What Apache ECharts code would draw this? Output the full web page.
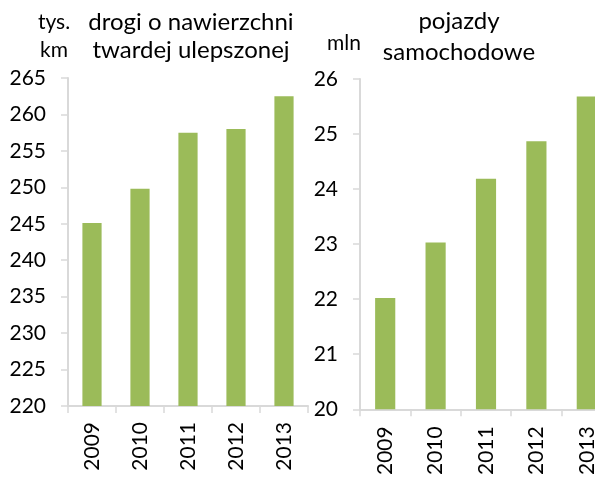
<!DOCTYPE html>
<html>
<head>
<meta charset="utf-8">
<script src="https://cdn.jsdelivr.net/npm/echarts@6/dist/echarts.min.js"></script>
<style>
  html, body { margin: 0; padding: 0; background: #fff; overflow: hidden; }
  /* the right panel runs past the picture's edge, as in the source */
  #chart { width: 620px; height: 478px; }
</style>
</head>
<body>
<div id="chart"></div>
<script>
const years = ['2009', '2010', '2011', '2012', '2013']
// drogi o nawierzchni twardej ulepszonej, tys. km
const roads = [245.1, 249.8, 257.5, 258.0, 262.5]
// pojazdy samochodowe, mln
const vehicles = [22.02, 23.03, 24.19, 24.87, 25.68]

const FONT = 'Lato, "Open Sans", sans-serif'
const GRAY = '#d9d9d9'
const GREEN = '#9bbb59'

const chart = echarts.init(document.getElementById('chart'))

const xAxisBase = (gridIndex, margin) => ({
  type: 'category',
  gridIndex: gridIndex,
  data: years,
  axisLine: { lineStyle: { color: GRAY, width: 2 } },
  axisTick: { show: true, length: 7, lineStyle: { color: GRAY, width: 1.5 } },
  axisLabel: { rotate: 90, margin: margin, color: '#000', fontSize: 21, fontFamily: FONT },
  splitLine: { show: false }
})

const yAxisBase = (gridIndex, min, max, interval) => ({
  type: 'value',
  gridIndex: gridIndex,
  min: min,
  max: max,
  interval: interval,
  axisLine: { show: true, lineStyle: { color: GRAY, width: 2 } },
  axisTick: { show: true, length: 7, lineStyle: { color: GRAY, width: 1.5 } },
  axisLabel: { margin: 22, color: '#000', fontSize: 21, fontFamily: FONT },
  splitLine: { show: false }
})

const option = {
  animation: false,
  backgroundColor: '#fff',
  grid: [
    { left: 68, top: 78, width: 240, height: 328 },
    { left: 360, top: 79, width: 252, height: 332 }
  ],
  xAxis: [xAxisBase(0, 16), xAxisBase(1, 17)],
  yAxis: [yAxisBase(0, 220, 265, 5), yAxisBase(1, 20, 26, 1)],
  series: [
    {
      type: 'bar',
      xAxisIndex: 0,
      yAxisIndex: 0,
      data: roads,
      barWidth: '40%',
      itemStyle: { color: GREEN }
    },
    {
      type: 'bar',
      xAxisIndex: 1,
      yAxisIndex: 1,
      data: vehicles,
      barWidth: '40%',
      itemStyle: { color: GREEN }
    }
  ],
  graphic: [
    {
      type: 'text',
      style: {
        text: 'tys.\nkm', x: 54, y: 36, textAlign: 'center', textVerticalAlign: 'middle',
        font: '21px ' + FONT, fill: '#000', lineHeight: 28
      }
    },
    {
      type: 'text',
      style: {
        text: 'drogi o nawierzchni\ntwardej ulepszonej', x: 191, y: 36, textAlign: 'center',
        textVerticalAlign: 'middle', font: '24px ' + FONT, fill: '#000', lineHeight: 28
      }
    },
    {
      type: 'text',
      style: {
        text: 'mln', x: 344, y: 43, textAlign: 'center', textVerticalAlign: 'middle',
        font: '21px ' + FONT, fill: '#000'
      }
    },
    {
      type: 'text',
      style: {
        text: 'pojazdy\nsamochodowe', x: 459, y: 37, textAlign: 'center',
        textVerticalAlign: 'middle', font: '24px ' + FONT, fill: '#000', lineHeight: 31
      }
    }
  ]
}

chart.setOption(option)
</script>
</body>
</html>
